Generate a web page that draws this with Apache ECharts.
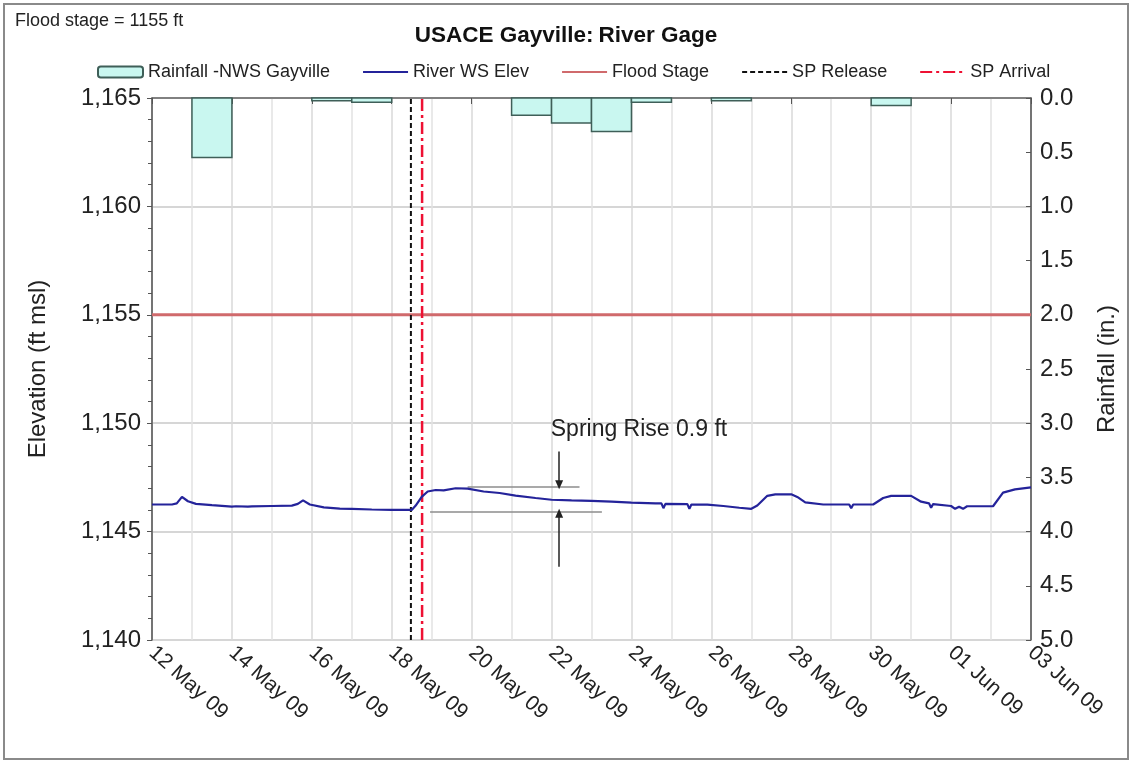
<!DOCTYPE html>
<html>
<head>
<meta charset="utf-8">
<script src="https://cdn.jsdelivr.net/npm/echarts@6/dist/echarts.min.js"></script>
<style>
  html, body { margin: 0; padding: 0; background: #fff; }
  #chart { width: 1132px; height: 763px; }
</style>
</head>
<body>
<div id="chart"></div>
<script>
// x axis is days since 12 May 09
var tickLabels = ['12 May 09', '14 May 09', '16 May 09', '18 May 09', '20 May 09', '22 May 09',
  '24 May 09', '26 May 09', '28 May 09', '30 May 09', '01 Jun 09', '03 Jun 09']

// daily rainfall (in.), bar covers the whole day
var rainDay = [1, 4, 5, 9, 10, 11, 12, 14, 18]
var rainIn = [0.55, 0.025, 0.04, 0.16, 0.23, 0.31, 0.04, 0.025, 0.07]

// river water surface elevation (ft msl)
var riverDay = [0, 0.5, 0.62, 0.75, 0.9, 1.1, 1.5, 2.0, 2.05, 2.1, 2.4, 2.45, 2.5, 3.0, 3.5, 3.65, 3.78,
  3.95, 4.3, 4.7, 5.0, 5.5, 6.0, 6.5, 6.6, 6.75, 6.9, 7.1, 7.3, 7.6, 7.9, 8.3, 8.7, 9.1, 9.6, 10.0,
  10.5, 11.0, 11.5, 12.0, 12.6, 12.75, 12.8, 12.85, 13.4, 13.45, 13.5, 13.9, 14.3, 14.7, 15.0, 15.15,
  15.4, 15.6, 16.0, 16.15, 16.35, 16.8, 17.45, 17.5, 17.55, 18.05, 18.3, 18.5, 19.0, 19.25, 19.45,
  19.5, 19.55, 20.0, 20.1, 20.2, 20.3, 20.4, 21.05, 21.3, 21.6, 22.0]
var riverElev = [1146.25, 1146.25, 1146.3, 1146.6, 1146.4, 1146.28, 1146.22, 1146.15, 1146.08, 1146.17,
  1146.15, 1146.08, 1146.16, 1146.18, 1146.2, 1146.28, 1146.44, 1146.25, 1146.12, 1146.06, 1146.05,
  1146.02, 1146.0, 1146.0, 1146.2, 1146.6, 1146.85, 1146.92, 1146.9, 1147.0, 1146.98, 1146.85, 1146.78,
  1146.66, 1146.55, 1146.47, 1146.44, 1146.42, 1146.38, 1146.34, 1146.3, 1146.3, 1146.08, 1146.28,
  1146.27, 1146.05, 1146.25, 1146.24, 1146.18, 1146.1, 1146.05, 1146.2, 1146.65, 1146.72, 1146.72,
  1146.6, 1146.35, 1146.25, 1146.25, 1146.08, 1146.25, 1146.25, 1146.55, 1146.65, 1146.65, 1146.38,
  1146.3, 1146.1, 1146.27, 1146.18, 1146.05, 1146.15, 1146.05, 1146.17, 1146.17, 1146.8, 1146.95, 1147.04]

var floodStage = 1155
var spRelease = 6.48
var spArrival = 6.76
var elevMin = 1140
var elevMax = 1165
// spring rise annotation (ft)
var riseHigh = 1147.08
var riseLow = 1145.93

var font = 'Liberation Sans, Arial, sans-serif'
var chart = echarts.init(document.getElementById('chart'))

var rainData = rainDay.map(function(d, i) { return [d, d + 1, rainIn[i]] })
var riverData = riverDay.map(function(d, i) { return [d, riverElev[i]] })

var option = {
  backgroundColor: '#fff',
  animation: false,
  textStyle: { fontFamily: font, color: '#222' },
  title: [
    {
      text: '{b|USACE Gayville:} {n|River Gage}',
      left: 'center',
      top: 19,
      textStyle: {
        rich: {
          b: { fontFamily: font, fontSize: 22.5, fontWeight: 'bold', color: '#111' },
          n: { fontFamily: font, fontSize: 22.5, color: '#111' }
        }
      }
    },
    {
      text: 'Flood stage = 1155 ft',
      left: 10,
      top: 7,
      textStyle: { fontFamily: font, fontSize: 18, fontWeight: 'normal', color: '#222' }
    }
  ],
  legend: {
    left: 92,
    top: 58,
    itemWidth: 45,
    itemHeight: 11,
    itemGap: 32,
    selectedMode: false,
    textStyle: { fontFamily: font, fontSize: 18, color: '#222' },
    data: [
      { name: 'Rainfall -NWS Gayville' },
      { name: 'River WS Elev', itemStyle: { opacity: 0 } },
      { name: 'Flood Stage', itemStyle: { opacity: 0 } },
      { name: 'SP Release', itemStyle: { opacity: 0 } },
      { name: 'SP Arrival', itemStyle: { opacity: 0 } }
    ]
  },
  graphic: [
    {
      type: 'rect',
      shape: { x: 4, y: 4, width: 1124, height: 755 },
      style: { fill: 'none', stroke: '#8a8a8a', lineWidth: 2 },
      silent: true
    }
  ],
  grid: {
    left: 152,
    right: 101,
    top: 98,
    bottom: 123,
    show: true,
    borderColor: '#777',
    borderWidth: 1
  },
  xAxis: {
    type: 'value',
    min: 0,
    max: 22,
    interval: 2,
    axisLine: { lineStyle: { color: '#666', width: 1.5 } },
    axisTick: { show: true, length: 6, lineStyle: { color: '#555' } },
    minorTick: { show: false, splitNumber: 2 },
    splitLine: { show: true, lineStyle: { color: '#d9d9d9', width: 1.5 } },
    minorSplitLine: { show: true, lineStyle: { color: '#e2e2e2', width: 1.5 } },
    axisLabel: {
      rotate: -42,
      fontSize: 21,
      color: '#222',
      margin: 10,
      formatter: function(v) { return tickLabels[Math.round(v / 2)] }
    }
  },
  yAxis: [
    {
      type: 'value',
      min: elevMin,
      max: elevMax,
      interval: 5,
      name: 'Elevation (ft msl)',
      nameLocation: 'middle',
      nameGap: 102,
      nameTextStyle: { fontSize: 24, color: '#222' },
      axisLine: { show: true, lineStyle: { color: '#555', width: 1.5 } },
      axisTick: { show: true, length: 5, lineStyle: { color: '#555' } },
      minorTick: { show: true, splitNumber: 5, length: 4, lineStyle: { color: '#555' } },
      splitLine: { show: true, lineStyle: { color: '#d6d6d6', width: 2 } },
      axisLabel: {
        fontSize: 24,
        color: '#222',
        margin: 11,
        formatter: function(v) { return v.toLocaleString('en-US') }
      }
    },
    {
      type: 'value',
      min: 0,
      max: 5,
      interval: 0.5,
      inverse: true,
      name: 'Rainfall (in.)',
      nameLocation: 'middle',
      nameGap: 64,
      nameTextStyle: { fontSize: 24, color: '#222' },
      axisLine: { show: true, lineStyle: { color: '#555', width: 1.5 } },
      axisTick: { show: true, inside: true, length: 5, lineStyle: { color: '#555' } },
      splitLine: { show: false },
      axisLabel: {
        fontSize: 24,
        color: '#222',
        margin: 9,
        formatter: function(v) { return v.toFixed(1) }
      }
    }
  ],
  series: [
    {
      name: 'Rainfall -NWS Gayville',
      type: 'custom',
      yAxisIndex: 1,
      itemStyle: { color: '#c9f7f0', borderColor: '#3f5f58', borderWidth: 1.5 },
      encode: { x: [0, 1], y: 2 },
      data: rainData,
      renderItem: function(params, api) {
        var p0 = api.coord([api.value(0), 0])
        var p1 = api.coord([api.value(1), api.value(2)])
        return {
          type: 'rect',
          shape: { x: p0[0], y: p0[1], width: p1[0] - p0[0], height: p1[1] - p0[1] },
          style: { fill: '#c9f7f0', stroke: '#3f5f58', lineWidth: 1.5 }
        }
      },
      z: 3
    },
    {
      name: 'Flood Stage',
      type: 'line',
      symbol: 'none',
      data: [[0, floodStage], [22, floodStage]],
      lineStyle: { color: '#d06a6c', width: 3 },
      itemStyle: { color: '#d06a6c' },
      z: 2
    },
    {
      name: 'SP Release',
      type: 'line',
      symbol: 'none',
      data: [[spRelease, elevMin], [spRelease, elevMax]],
      lineStyle: { color: '#111', width: 2, type: [5, 3] },
      itemStyle: { color: '#111' },
      z: 4
    },
    {
      name: 'SP Arrival',
      type: 'line',
      symbol: 'none',
      data: [[spArrival, elevMin], [spArrival, elevMax]],
      lineStyle: { color: '#ee1133', width: 2.5, type: [12, 4, 3, 4] },
      itemStyle: { color: '#ee1133' },
      z: 4
    },
    {
      name: 'River WS Elev',
      type: 'line',
      symbol: 'none',
      data: riverData,
      lineStyle: { color: '#24239a', width: 2.2 },
      itemStyle: { color: '#24239a' },
      z: 5,
      markLine: {
        silent: true,
        symbol: ['none', 'none'],
        lineStyle: { color: '#8c8c8c', width: 1.5, type: 'solid' },
        label: { show: false },
        data: [
          [{ coord: [7.9, riseHigh] }, { coord: [10.7, riseHigh] }],
          [{ coord: [6.96, riseLow] }, { coord: [11.26, riseLow] }],
          [{ coord: [10.19, 1148.7], symbol: 'none', lineStyle: { color: '#222' } },
           { coord: [10.19, riseHigh + 0.08], symbol: 'triangle', symbolSize: [8, 9], symbolRotate: 180, lineStyle: { color: '#222' } }],
          [{ coord: [10.19, 1143.38], symbol: 'none', lineStyle: { color: '#222' } },
           { coord: [10.19, riseLow - 0.08], symbol: 'triangle', symbolSize: [8, 9], lineStyle: { color: '#222' } }]
        ]
      },
      markPoint: {
        silent: true,
        symbol: 'rect',
        symbolSize: 0,
        label: {
          show: true,
          position: 'right',
          distance: 0,
          fontFamily: font,
          fontSize: 23,
          color: '#222',
          formatter: 'Spring Rise 0.9 ft'
        },
        data: [{ coord: [9.98, 1149.72] }]
      }
    }
  ]
}

chart.setOption(option)
</script>
</body>
</html>
